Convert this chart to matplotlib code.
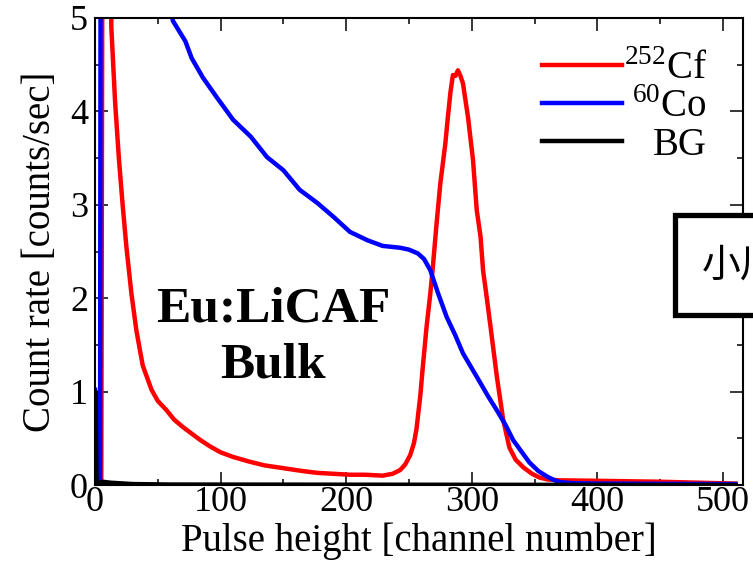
import matplotlib
matplotlib.use("Agg")
import matplotlib.pyplot as plt
from matplotlib.patches import Rectangle
from matplotlib.ticker import MultipleLocator
from matplotlib.transforms import Affine2D

plt.rcParams['font.family'] = ['Liberation Serif', 'DejaVu Serif']
plt.rcParams['mathtext.fontset'] = 'custom'
plt.rcParams['mathtext.rm'] = 'Liberation Serif'

# 252Cf spectrum
cf_x = [0, 5, 8, 13, 16, 19, 22, 25, 29, 33, 38, 45, 50, 57, 63, 70, 77, 84, 92,
        100, 110, 123, 135, 150, 165, 177, 190, 203, 215, 229, 237, 243, 247, 251, 254, 256,
        259, 261, 264, 267, 269, 272, 275, 279, 281, 283, 285, 287, 289, 291, 293, 297, 301,
        304, 307, 309, 312, 315, 320, 325, 330, 335, 341, 348, 354, 360, 370, 400, 450, 480, 510]
cf_y = [0, 0, 20, 4.9, 4.1, 3.5, 3.0, 2.55, 2.05, 1.65, 1.28, 1.02, 0.9, 0.8, 0.7, 0.62,
        0.55, 0.48, 0.41, 0.35, 0.3, 0.25, 0.21, 0.18, 0.15, 0.13, 0.12, 0.11, 0.11, 0.1, 0.12,
        0.16, 0.22, 0.32, 0.45, 0.6, 0.95, 1.26, 1.69, 2.05, 2.33, 2.8, 3.23, 3.66, 3.94, 4.2,
        4.39, 4.38, 4.44, 4.38, 4.3, 3.94, 3.48, 2.94, 2.66, 2.3, 2.0, 1.69, 1.16, 0.7, 0.4, 0.27,
        0.19, 0.12, 0.08, 0.06, 0.05, 0.045, 0.035, 0.025, 0.015]

# 60Co spectrum
co_x = [0, 1, 4, 6, 20, 35, 50, 62, 72, 77, 86, 97, 110, 124, 137, 150, 163, 177, 190, 203,
        217, 229, 243, 250, 257, 262, 267, 273, 280, 287, 293, 300, 307, 313, 320, 327, 333,
        340, 346, 353, 360, 366, 371, 380, 400, 510]
co_y = [1.02, 0.0, 0.0, 25, 14, 8, 6, 4.97, 4.75, 4.57, 4.36, 4.15, 3.91, 3.73, 3.51, 3.37,
        3.16, 3.02, 2.87, 2.71, 2.62, 2.56, 2.54, 2.52, 2.48, 2.42, 2.3, 2.06, 1.8, 1.6, 1.41,
        1.25, 1.09, 0.95, 0.8, 0.64, 0.48, 0.35, 0.24, 0.15, 0.09, 0.05, 0.03, 0.02, 0.015, 0.01]

# background
bg_x = [0, 0.5, 1.2, 3, 6, 12, 30, 60, 510]
bg_y = [0, 1.0, 0.0, 0.02, 0.035, 0.025, 0.01, 0.005, 0.0]

labels = [r'$^{252}$Cf', r'$^{60}$Co', 'BG']

fig = plt.figure(figsize=(7.53, 5.82), dpi=100)
ax = fig.add_axes([95 / 753, 1 - 485 / 582, 648 / 753, 467 / 582])

l1, = ax.plot(cf_x, cf_y, color='#ff0000', lw=3.2)
l2, = ax.plot(co_x, co_y, color='#0000ff', lw=3.2)
l3, = ax.plot(bg_x, bg_y, color='black', lw=3.2)

ax.set_xlim(0, 516)
ax.set_ylim(0, 5)
ax.xaxis.set_major_locator(MultipleLocator(100))
ax.xaxis.set_minor_locator(MultipleLocator(50))
ax.yaxis.set_major_locator(MultipleLocator(1))
ax.yaxis.set_minor_locator(MultipleLocator(0.5))
ax.tick_params(which='both', direction='in', top=True, right=True, width=1.1)
ax.tick_params(which='major', length=9.5, labelsize=26)
ax.tick_params(which='minor', length=4.5)
ax.tick_params(axis='x', pad=1)
ax.tick_params(axis='y', pad=5)
for s in ax.spines.values():
    s.set_linewidth(1.5)

ax.set_xlabel('Pulse height [channel number]', fontsize=28, labelpad=2)
ax.set_ylabel('Count rate [counts/sec]', fontsize=28, labelpad=8)

ax.text(142, 1.88, 'Eu:LiCAF', fontsize=37, fontweight='bold', ha='center', va='center')
ax.text(142, 1.28, 'Bulk', fontsize=37, fontweight='bold', ha='center', va='center')

leg = ax.legend([l1, l2, l3], labels, loc='upper left', bbox_to_anchor=(542 / 753, 1 - 51 / 582),
                bbox_transform=fig.transFigure, frameon=False, fontsize=28,
                handlelength=2.05, handletextpad=0.05, labelspacing=0.02, borderpad=0, borderaxespad=0)

# right-align legend labels
fig.canvas.draw()
texts = leg.get_texts()
widths = [t.get_window_extent().width for t in texts]
for t, w in zip(texts, widths):
    t.set_transform(t.get_transform() + Affine2D().translate(max(widths) - w, 0))

# cropped note box at the right edge
box = Rectangle((675 / 753, 1 - 315 / 582), 200 / 753, 100 / 582, transform=fig.transFigure,
                facecolor='white', edgecolor='black', lw=3.8, zorder=10, clip_on=False)
fig.add_artist(box)
fig.text(702 / 753, 1 - 266 / 582, '小川', fontsize=28, va='center', ha='left', zorder=11,
         family=['Noto Sans CJK JP', 'DejaVu Sans'])

fig.savefig('out.png', dpi=100)
